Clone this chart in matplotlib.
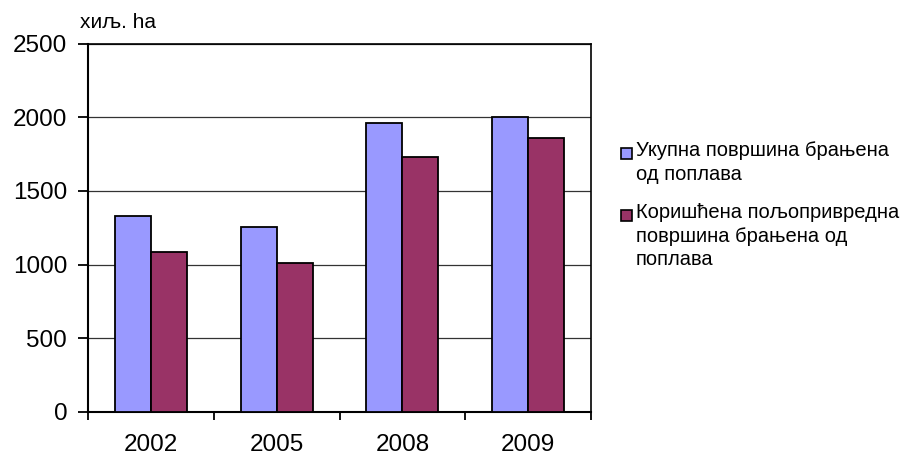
import matplotlib
matplotlib.use("Agg")
import matplotlib.pyplot as plt
import numpy as np
from matplotlib.patches import Rectangle

years = ["2002", "2005", "2008", "2009"]
total = [1331, 1255, 1963, 2002]
agri = [1087, 1010, 1730, 1860]
series_labels = ["Укупна површина брањена\nод поплава",
                 "Коришћена пољопривредна\nповршина брањена од\nпоплава"]
colors = ["#9999FF", "#993366"]
yticks = [0, 500, 1000, 1500, 2000, 2500]

plt.rcParams['font.family'] = ['Liberation Sans', 'DejaVu Sans']

fig = plt.figure(figsize=(9.21, 4.59), dpi=100)
ax = fig.add_axes([88/921, 1-411.7/459, (591-88)/921, (411.7-43.7)/459])

x = np.arange(len(years))
w = 0.286
ax.bar(x - w/2, total, w, color=colors[0], edgecolor="black", linewidth=1.3, zorder=3)
ax.bar(x + w/2, agri, w, color=colors[1], edgecolor="black", linewidth=1.3, zorder=3)

ax.set_xlim(-0.5, len(years) - 0.5)
ax.set_ylim(0, 2500)
ax.set_yticks(yticks)
ax.set_yticklabels([str(v) for v in yticks], fontsize=17.5)
ax.set_xticks(x)
ax.set_xticklabels(years, fontsize=17.5)
ax.set_xticks(np.arange(len(years) + 1) - 0.5, minor=True)
ax.tick_params(axis='x', which='major', length=0, pad=16)
ax.tick_params(axis='x', which='minor', length=6, width=1.3, direction='out')
ax.tick_params(axis='y', length=7, width=1.3, direction='out', pad=8)
ax.yaxis.grid(True, color="#333333", linewidth=0.9, zorder=0)
for s in ax.spines.values():
    s.set_color("black")
ax.spines['left'].set_linewidth(1.5)
ax.spines['bottom'].set_linewidth(1.5)
ax.spines['top'].set_linewidth(1.2)
ax.spines['right'].set_linewidth(1.2)

fig.text(80/921, 1-22/459, "хиљ. ha", fontsize=15, va="center", ha="left")

# legend
leg_y = [153, 215]
for i, (lab, c) in enumerate(zip(series_labels, colors)):
    yc = leg_y[i]
    fig.add_artist(Rectangle((621/921, 1-(yc+5.5)/459), 11/921, 11/459,
                             transform=fig.transFigure, facecolor=c,
                             edgecolor="black", linewidth=1.2))
    fig.text(636/921, 1-(yc-12)/459, lab, fontsize=14.5, va="top", ha="left",
             linespacing=1.3)

fig.savefig("out.png", dpi=100)
